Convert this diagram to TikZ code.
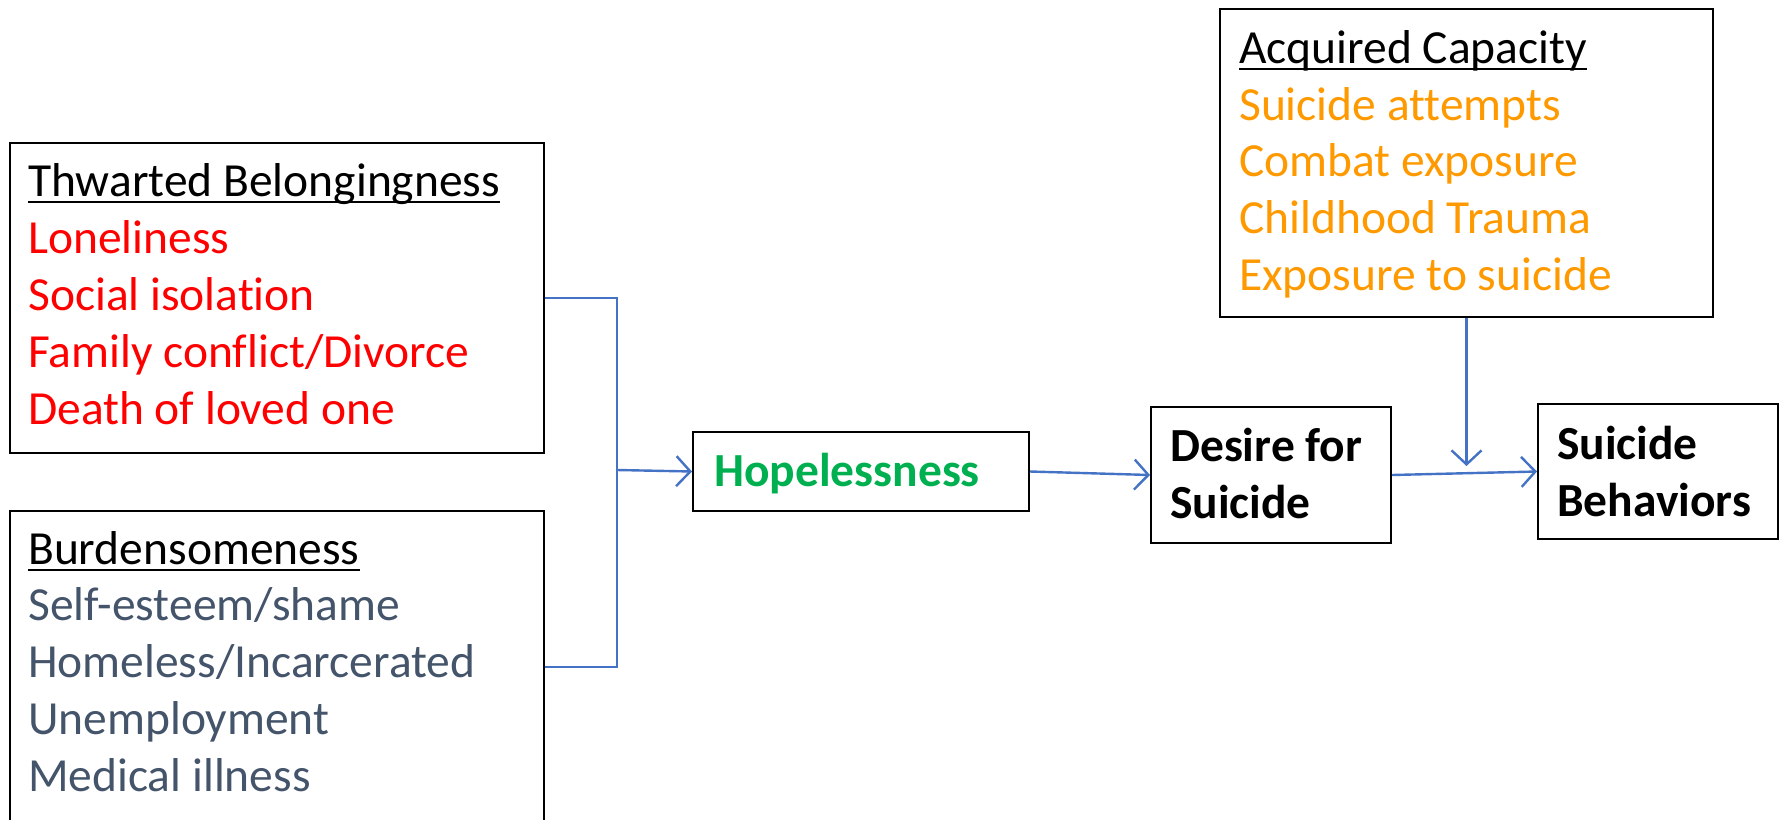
\documentclass[tikz,border=0pt]{standalone}
\usepackage{fontspec}
\setmainfont{Carlito}[Ligatures=NoCommon]
\usetikzlibrary{arrows.meta,calc}
\definecolor{tbred}{HTML}{FF0000}
\definecolor{bugray}{HTML}{44546A}
\definecolor{acorange}{HTML}{FF9900}
\definecolor{hopegreen}{HTML}{00B050}
\definecolor{connblue}{HTML}{4472C4}
\begin{document}
\begin{tikzpicture}[x=1pt,y=1pt,
  box/.style={draw=black, line width=2pt, inner sep=0pt, anchor=north west},
  txt/.style={anchor=base west, inner sep=0pt, font=\fontsize{47.5}{57}\selectfont},
  btxt/.style={txt, font=\fontsize{47.5}{57}\selectfont\bfseries},
  uline/.style={line width=2.5pt},
  conn/.style={draw=connblue, line width=2.4pt},
  arr/.style={conn, -{Straight Barb[length=14pt,width=30pt,line width=2.4pt]}}
]
\useasboundingbox (0,0) rectangle (1785,-819);

% boxes
\node[box, minimum width=534pt, minimum height=310pt] (tb) at (9,-142) {};
\node[box, minimum width=534pt, minimum height=312pt] (bu) at (9,-510) {};
\node[box, minimum width=336pt, minimum height=79pt] (hope) at (692,-431) {};
\node[box, minimum width=240pt, minimum height=136pt] (desire) at (1150,-406) {};
\node[box, minimum width=240pt, minimum height=135pt] (sb) at (1537,-403) {};
\node[box, minimum width=493pt, minimum height=308pt] (ac) at (1219,-8) {};

% Thwarted Belongingness
\node[txt] (tb0) at (28,-196) {Thwarted Belongingness};
\node[txt, text=tbred] (tb1) at (28,-253) {Loneliness};
\node[txt, text=tbred] (tb2) at (28,-310) {Social isolation};
\node[txt, text=tbred] (tb3) at (28,-367) {Family conflict/Divorce};
\node[txt, text=tbred] (tb4) at (28,-424) {Death of loved one};
\draw[uline] ([yshift=-6pt]tb0.base west) -- ([yshift=-6pt]tb0.base east);

% Burdensomeness
\node[txt] (bu0) at (28,-564) {Burdensomeness};
\node[txt, text=bugray] (bu1) at (28,-620) {Self-esteem/shame};
\node[txt, text=bugray] (bu2) at (28,-677) {Homeless/Incarcerated};
\node[txt, text=bugray] (bu3) at (28,-734) {Unemployment};
\node[txt, text=bugray] (bu4) at (28,-791) {Medical illness};
\draw[uline] ([yshift=-6pt]bu0.base west) -- ([yshift=-6pt]bu0.base east);

% Acquired Capacity
\node[txt] (ac0) at (1239,-63) {Acquired Capacity};
\node[txt, text=acorange] (ac1) at (1239,-120) {Suicide attempts};
\node[txt, text=acorange] (ac2) at (1239,-176) {Combat exposure};
\node[txt, text=acorange] (ac3) at (1239,-233) {Childhood Trauma};
\node[txt, text=acorange] (ac4) at (1239,-290) {Exposure to suicide};
\draw[uline] ([yshift=-6pt]ac0.base west) -- ([yshift=-6pt]ac0.base east);

% single-word boxes
\node[btxt, text=hopegreen] (hopet) at (714,-486) {Hopelessness};
\node[btxt] (de1) at (1170,-461) {Desire for};
\node[btxt] (de2) at (1170,-518) {Suicide};
\node[btxt] (sb1) at (1557,-459) {Suicide};
\node[btxt] (sb2) at (1557,-516) {Behaviors};

% connectors
\coordinate (j) at (617,-470);
\draw[conn] (tb.east) -| (j) |- (bu.east);
\draw[arr] (j) -- (hope.west);
\draw[arr] (hope.east) -- (desire.west);
\draw[arr] (desire.east) -- (sb.west);
\coordinate (m) at (ac.south |- 0,-466);
\draw[arr] (ac.south) -- (m);
\end{tikzpicture}
\end{document}
